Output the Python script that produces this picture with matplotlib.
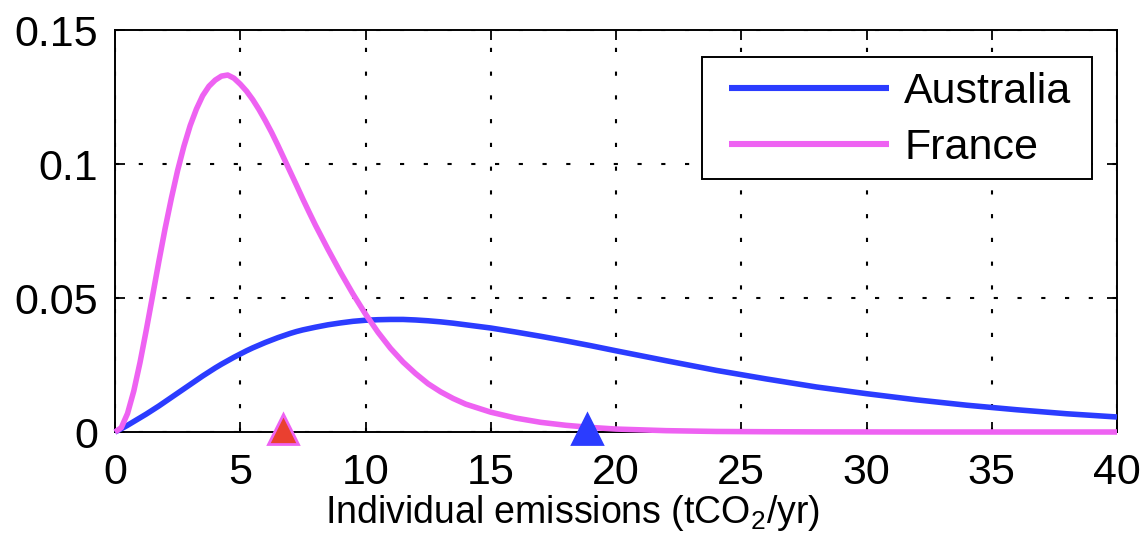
import matplotlib
matplotlib.use("Agg")
import matplotlib.pyplot as plt
from matplotlib import transforms
from matplotlib.patches import Rectangle

plt.rcParams["font.family"] = ["Liberation Sans", "DejaVu Sans"]
plt.rcParams["mathtext.fontset"] = "custom"
plt.rcParams["mathtext.rm"] = "Liberation Sans"
plt.rcParams["mathtext.default"] = "regular"

# Individual emissions grid (tCO2/yr)
emissions = [0, 0.25, 0.5, 0.75, 1, 1.25, 1.5, 1.75, 2, 2.25, 2.5, 2.75,
             3, 3.25, 3.5, 3.75, 4, 4.25, 4.5, 4.75, 5, 5.25, 5.5, 5.75,
             6, 6.25, 6.5, 6.75, 7, 7.25, 7.5, 7.75, 8,
             8.5, 9, 9.5, 10, 10.5, 11, 11.5, 12, 12.5, 13, 13.5, 14,
             15, 16, 17, 18, 19, 20, 22, 24, 26, 28, 30, 32, 34, 36, 38, 40]

# Probability density of individual emissions
australia = [0, 0.0012, 0.0025, 0.0039, 0.0053, 0.0067, 0.0082, 0.0097,
             0.0113, 0.0129, 0.0145, 0.0161, 0.0177, 0.0193, 0.0209, 0.0224,
             0.0239, 0.0253, 0.0266, 0.0279, 0.0291, 0.0303, 0.0314, 0.0324,
             0.0334, 0.0343, 0.0352, 0.0360, 0.0368, 0.0375, 0.0381, 0.0386,
             0.0391,
             0.0400, 0.0407, 0.0413, 0.0417, 0.0419, 0.0420, 0.0420, 0.0418,
             0.0415, 0.0411, 0.0406, 0.0400,
             0.0388, 0.0373, 0.0357, 0.0340, 0.0322, 0.0303,
             0.0266, 0.0230, 0.0198, 0.0168, 0.0143, 0.0120, 0.0100, 0.0083,
             0.0068, 0.0056]

france = [0, 0.0016, 0.0069, 0.0153, 0.0260, 0.0381, 0.0508, 0.0636,
          0.0759, 0.0872, 0.0976, 0.1066, 0.1143, 0.1205, 0.1255, 0.1290,
          0.1313, 0.1328, 0.1332, 0.1320, 0.1298, 0.1272, 0.1240, 0.1203,
          0.1162, 0.1118, 0.1070, 0.1020, 0.0970, 0.0920, 0.0869, 0.0820,
          0.0772,
          0.0682, 0.0596, 0.0515, 0.0440, 0.0372, 0.0312, 0.0261, 0.0218,
          0.0180, 0.0150, 0.0125, 0.0104,
          0.0074, 0.0052, 0.0036, 0.0025, 0.0017, 0.0011,
          0.0005, 0.0002, 0.0001, 0.00004, 0.00002, 0, 0, 0, 0, 0]

# Mean individual emissions
mean_france = 6.7
mean_australia = 18.85

x_ticks = [0, 5, 10, 15, 20, 25, 30, 35, 40]
y_ticks = [0, 0.05, 0.1, 0.15]
y_tick_labels = ["0", "0.05", "0.1", "0.15"]

blue = "#2b3cff"
magenta = "#ee62f2"
red = "#ea4030"

W, H = 1147, 553
fig = plt.figure(figsize=(W / 100, H / 100), dpi=100)
ax = fig.add_axes([115 / W, 1 - 432 / H, 1002 / W, 402 / H])

ax.plot(emissions, australia, color=blue, lw=4.0, label="Australia",
        clip_on=False, zorder=3, solid_capstyle="butt", solid_joinstyle="round")
ax.plot(emissions, france, color=magenta, lw=4.0, label="France",
        clip_on=False, zorder=3, solid_capstyle="butt", solid_joinstyle="round")

lift = transforms.offset_copy(ax.transData, fig=fig, x=0, y=3, units="dots")
ax.plot([mean_france], [0], marker="^", ms=22, mfc=red, mec=magenta, mew=2,
        ls="none", clip_on=False, zorder=4, transform=lift)
ax.plot([mean_australia], [0], marker="^", ms=22, mfc=blue, mec=blue, mew=2,
        ls="none", clip_on=False, zorder=4, transform=lift)

ax.set_xlim(0, 40)
ax.set_ylim(0, 0.15)
ax.set_xticks(x_ticks)
ax.set_yticks(y_ticks)
ax.set_yticklabels(y_tick_labels)

ax.grid(True, color="black", linestyle=(0, (2.0, 9.4)), linewidth=1.5)
for s in ax.spines.values():
    s.set_linewidth(1.4)
ax.tick_params(direction="in", length=7, width=1.3, top=True, right=True,
               labelsize=31)
ax.tick_params(axis="x", pad=15)
ax.tick_params(axis="y", pad=12)

ax.set_xlabel("Individual emissions (tCO$_2$/yr)", fontsize=27)
ax.xaxis.set_label_coords(0.457, -0.152)

# Legend box with its entries placed inside
box = Rectangle((702 / W, 1 - 179 / H), 390 / W, 122 / H,
                transform=fig.transFigure, facecolor="white",
                edgecolor="black", linewidth=1.4, zorder=5, clip_on=False)
ax.add_patch(box)
leg = ax.legend(loc="upper left", bbox_to_anchor=(729 / W, 1 - 72 / H),
                bbox_transform=fig.transFigure, borderaxespad=0, borderpad=0,
                fontsize=31, frameon=False, handlelength=3.72,
                handletextpad=0.35, labelspacing=0.38)
leg.set_zorder(6)
for h in leg.legend_handles:
    h.set_linewidth(4.4)

fig.savefig("out.png", dpi=100)
